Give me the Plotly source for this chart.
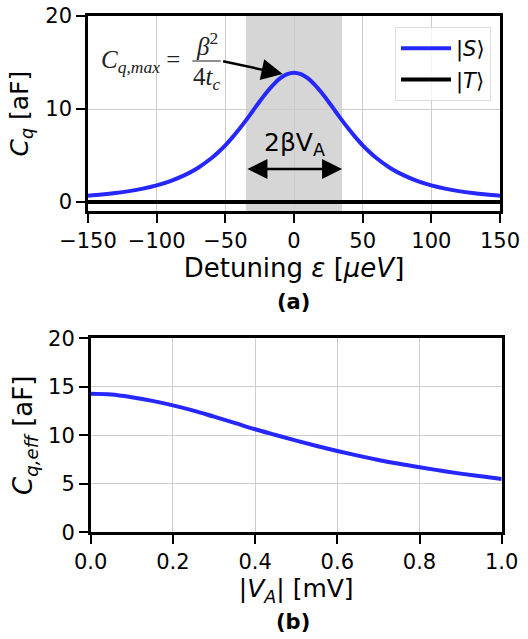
import plotly.graph_objects as go

# Panel (a): quantum capacitance vs detuning
detuning = [-150, -140, -130, -120, -110, -100, -90, -80, -70, -60, -55, -50, -45, -40,
            -35, -30, -25, -20, -15, -10, -5, 0, 5, 10, 15, 20, 25, 30, 35, 40, 45,
            50, 55, 60, 70, 80, 90, 100, 110, 120, 130, 140, 150]
cq_singlet = [0.67, 0.80, 0.96, 1.17, 1.44, 1.79, 2.25, 2.86, 3.66, 4.73, 5.38, 6.10, 6.92, 7.82,
              8.78, 9.79, 10.81, 11.78, 12.63, 13.31, 13.75, 13.90, 13.75, 13.31, 12.63, 11.78,
              10.81, 9.79, 8.78, 7.82, 6.92, 6.10, 5.38, 4.73, 3.66, 2.86, 2.25, 1.79, 1.44,
              1.17, 0.96, 0.80, 0.67]
detuning_triplet = [-150, 150]
cq_triplet = [0, 0]
drive_halfwidth = 35  # beta * V_A in ueV

# Panel (b): effective capacitance vs drive amplitude
va = [0.0, 0.05, 0.1, 0.15, 0.2, 0.25, 0.3, 0.35, 0.4, 0.45, 0.5,
      0.55, 0.6, 0.65, 0.7, 0.75, 0.8, 0.85, 0.9, 0.95, 1.0]
cq_eff = [14.28, 14.20, 13.92, 13.55, 13.09, 12.55, 11.92, 11.28, 10.62, 10.03, 9.45,
          8.90, 8.38, 7.90, 7.46, 7.06, 6.70, 6.37, 6.05, 5.77, 5.50]

x_ticks_a = [-150, -100, -50, 0, 50, 100, 150]
y_ticks_a = [0, 10, 20]
x_ticks_b = [0.0, 0.2, 0.4, 0.6, 0.8, 1.0]
y_ticks_b = [0, 5, 10, 15, 20]

BLUE = "#2626ff"
W, H = 528, 639


def px_x(p):
    return p / W


def px_y(p):
    return 1 - p / H


fig = go.Figure()
fig.add_trace(go.Scatter(x=detuning, y=cq_singlet, mode="lines", name="|<i>S</i>⟩",
                         line=dict(color=BLUE, width=4, shape="spline"),
                         legendgroup="s", xaxis="x", yaxis="y"))
fig.add_trace(go.Scatter(x=detuning_triplet, y=cq_triplet, mode="lines", name="|<i>T</i>⟩",
                         line=dict(color="black", width=4),
                         legendgroup="t", xaxis="x", yaxis="y"))
fig.add_trace(go.Scatter(x=va, y=cq_eff, mode="lines", showlegend=False,
                         line=dict(color=BLUE, width=4, shape="spline"),
                         xaxis="x2", yaxis="y2"))

axis_common = dict(
    ticks="outside", ticklen=9, tickwidth=2, tickcolor="black",
    showline=True, linewidth=2.5, linecolor="black", mirror=True,
    showgrid=True, gridcolor="#cdcdcd", gridwidth=1, zeroline=False,
    automargin=False,
    tickfont=dict(size=21, family="DejaVu Sans", color="black"),
)

fig.update_layout(
    width=W, height=H,
    margin=dict(l=0, r=0, t=0, b=0),
    plot_bgcolor="white", paper_bgcolor="white",
    font=dict(family="DejaVu Sans", size=21, color="black"),
    xaxis=dict(axis_common, domain=[px_x(88), px_x(500)], range=[-150, 150],
               tickvals=x_ticks_a, anchor="y",
               title=dict(text="Detuning <i>ε</i> [<i>μeV</i>]", font=dict(size=26), standoff=3)),
    yaxis=dict(axis_common, domain=[px_y(211.3), px_y(16)], range=[-1, 20],
               tickvals=y_ticks_a, anchor="x",
               title=dict(text="<i>C</i><sub><i>q</i></sub> [aF]", font=dict(size=25), standoff=10)),
    xaxis2=dict(axis_common, domain=[px_x(90.7), px_x(501.7)], range=[0, 1],
                tickvals=x_ticks_b, tickformat=".1f", anchor="y2",
                title=dict(text="|<i>V</i><sub><i>A</i></sub>| [mV]", font=dict(size=25), standoff=4)),
    yaxis2=dict(axis_common, domain=[px_y(532.3), px_y(338.3)], range=[0, 20],
                tickvals=y_ticks_b, anchor="x2",
                title=dict(text="<i>C</i><sub><i>q,eff</i></sub> [aF]", font=dict(size=26), standoff=8)),
    legend=dict(x=px_x(491), y=px_y(27), xanchor="right", yanchor="top",
                bgcolor="rgba(255,255,255,0.8)", bordercolor="#dddddd", borderwidth=1,
                font=dict(size=21), tracegroupgap=1, itemwidth=50),
)

# Drive window shading
fig.add_shape(type="rect", xref="x", yref="y domain", x0=-drive_halfwidth, x1=drive_halfwidth,
              y0=0, y1=1, fillcolor="#d6d6d6", line=dict(width=0), layer="below")

# Peak formula: C_q,max = beta^2 / (4 t_c)
serif = "Liberation Serif"
fig.add_annotation(x=-142, y=15.1, xref="x", yref="y", xanchor="left", yanchor="middle",
                   text="<i>C</i><sub><i>q,max</i></sub> =", showarrow=False,
                   font=dict(family=serif, size=25, color="#222"))
fig.add_annotation(x=-63.5, y=17.0, xref="x", yref="y", xanchor="center", yanchor="middle",
                   text="<i>β</i><sup>2</sup>", showarrow=False,
                   font=dict(family=serif, size=25, color="#222"))
fig.add_annotation(x=-63.5, y=13.3, xref="x", yref="y", xanchor="center", yanchor="middle",
                   text="4<i>t</i><sub><i>c</i></sub>", showarrow=False,
                   font=dict(family=serif, size=25, color="#222"))
fig.add_shape(type="line", xref="x", yref="y", x0=-74, x1=-53.3, y0=15.16, y1=15.16,
              line=dict(color="#222", width=1.2))
fig.add_annotation(x=-8.2, y=13.76, ax=-52.7, ay=15.16, xref="x", yref="y",
                   axref="x", ayref="y", text="", showarrow=True,
                   arrowhead=2, arrowsize=1.7, arrowwidth=2.5, arrowcolor="black")

# Drive amplitude span arrow
fig.add_annotation(x=drive_halfwidth, y=3.55, ax=-drive_halfwidth, ay=3.55, xref="x", yref="y",
                   axref="x", ayref="y", text="", showarrow=True, arrowside="end+start",
                   arrowhead=2, startarrowhead=2, arrowsize=1.6, startarrowsize=1.6,
                   arrowwidth=2.5, arrowcolor="black")
fig.add_annotation(x=0, y=6.2, xref="x", yref="y", text="2βV<sub>A</sub>", showarrow=False,
                   font=dict(size=25, family="DejaVu Sans"))

# Panel labels
fig.add_annotation(x=px_x(293), y=px_y(302), xref="paper", yref="paper", text="<b>(a)</b>",
                   showarrow=False, font=dict(size=21), yanchor="middle")
fig.add_annotation(x=px_x(293), y=px_y(622), xref="paper", yref="paper", text="<b>(b)</b>",
                   showarrow=False, font=dict(size=21), yanchor="middle")

fig.write_html("out.html")
